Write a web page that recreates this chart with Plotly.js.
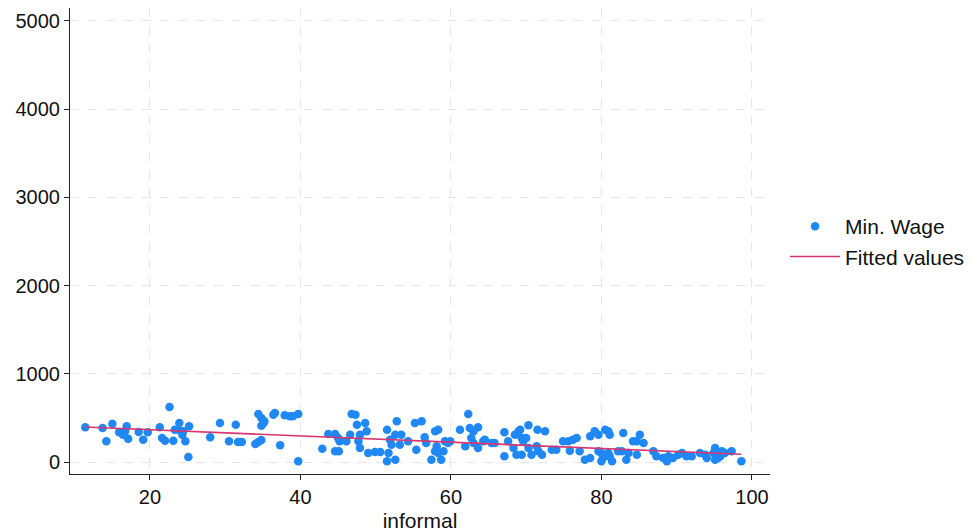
<!DOCTYPE html>
<html>
<head>
<meta charset="utf-8">
<script src="https://cdn.plot.ly/plotly-3.0.1.min.js"></script>
<style>html,body{margin:0;padding:0;background:#fff;}#chart{width:974px;height:532px;}</style>
</head>
<body>
<div id="chart"></div>
<script>
// informal (%) values
const informal = [
  11.4, 13.7, 14.2, 15.0, 15.9, 16.7, 16.9, 17.1, 16.4, 18.5, 19.1, 19.7, 21.3, 21.6, 22.6, 22.0, 23.1, 23.9, 23.8, 24.3,
  24.7, 25.2, 25.1, 24.4, 23.3, 28.0, 29.3, 31.4, 30.5, 31.7, 32.2, 34.4, 34.8, 35.1, 34.8, 35.2, 36.4, 36.6, 37.9, 38.6,
  39.0, 39.7, 34.0, 34.4, 34.8, 37.3, 39.7, 42.9, 43.7, 44.6, 44.6, 45.1, 45.2, 45.0, 46.1, 46.6, 46.8, 47.3, 47.5, 48.6,
  48.8, 47.9, 47.7, 47.9, 49.0, 49.9, 50.6, 51.5, 51.5, 52.6, 51.7, 52.8, 52.6, 53.4, 53.2, 52.1, 51.9, 54.3, 55.2, 56.1,
  55.4, 56.5, 56.7, 57.9, 58.3, 57.4, 58.7, 57.9, 58.3, 59.0, 58.1, 59.2, 59.6, 59.9, 61.2, 62.3, 62.5, 63.6, 62.7, 61.9,
  63.0, 63.6, 64.3, 64.5, 65.4, 63.0, 65.8, 67.1, 67.1, 67.6, 68.3, 68.5, 69.0, 69.2, 69.4, 69.6, 68.7, 69.4, 70.3, 70.0,
  70.3, 70.7, 71.5, 72.5, 71.6, 72.1, 71.4, 73.4, 74.0, 74.9, 75.6, 76.2, 76.7, 75.8, 77.1, 77.8, 78.5, 78.5, 79.1, 79.6,
  80.0, 80.5, 80.9, 81.1, 80.2, 79.6, 80.9, 81.4, 80.0, 81.1, 82.9, 82.2, 82.7, 83.6, 83.3, 84.2, 85.1, 84.7, 85.6, 84.7,
  86.9, 87.3, 88.2, 88.7, 88.9, 89.5, 90.2, 90.7, 91.3, 92.0, 93.1, 93.8, 94.0, 95.1, 94.9, 95.1, 95.8, 96.0, 96.4, 97.3,
  98.6, 95.5
];
// minimum wage values
const minWage = [
  393, 385, 235, 434, 337, 348, 405, 264, 310, 340, 253, 337, 393, 272, 624, 241, 241, 442, 366, 310,
  235, 405, 57, 348, 366, 280, 442, 423, 235, 227, 227, 544, 499, 442, 412, 462, 537, 556, 529, 518,
  518, 544, 204, 227, 249, 189, 8, 151, 317, 317, 121, 121, 235, 272, 235, 310, 544, 537, 423, 442,
  348, 310, 235, 159, 102, 113, 113, 366, 8, 26, 102, 462, 310, 310, 196, 196, 253, 235, 442, 462,
  140, 280, 215, 348, 366, 26, 26, 121, 102, 121, 178, 235, 215, 235, 366, 544, 385, 393, 272, 178,
  215, 159, 235, 253, 215, 348, 215, 337, 65, 235, 159, 310, 348, 366, 272, 235, 83, 83, 416, 272,
  159, 83, 366, 348, 121, 83, 178, 140, 140, 235, 235, 253, 272, 128, 121, 26, 45, 291, 348, 310,
  102, 366, 348, 310, 45, 121, 102, 8, 8, 65, 329, 121, 121, 102, 26, 235, 310, 235, 215, 83,
  121, 65, 45, 8, 65, 45, 83, 102, 65, 65, 102, 83, 45, 159, 102, 26, 65, 121, 102, 121,
  8, 45
];
// fitted line endpoints
const fitX = [11.4, 98.6];
const fitY = [396, 88];

const seriesNames = ["Min. Wage", "Fitted values"];
const xTicks = [20, 40, 60, 80, 100];
const yTicks = [0, 1000, 2000, 3000, 4000, 5000];

const font = "Liberation Sans, Arial, Helvetica, sans-serif";

const traces = [
  {
    x: informal, y: minWage, type: "scatter", mode: "markers", name: seriesNames[0],
    marker: {color: "#1f88f4", size: 8.5, line: {width: 0}}
  },
  {
    x: fitX, y: fitY, type: "scatter", mode: "lines", name: seriesNames[1],
    line: {color: "#d8366c", width: 1.6}
  }
];

const layout = {
  width: 974, height: 532,
  margin: {l: 70, r: 204, t: 8, b: 58, pad: 0, autoexpand: false},
  paper_bgcolor: "#ffffff", plot_bgcolor: "#ffffff",
  font: {family: font, size: 20, color: "#111"},
  showlegend: true,
  legend: {
    x: 0.806, xref: "container", xanchor: "left",
    y: 0.546, yref: "container", yanchor: "middle",
    font: {family: font, size: 21, color: "#111"},
    bgcolor: "rgba(0,0,0,0)", tracegroupgap: 0, itemwidth: 50
  },
  xaxis: {
    range: [9.37, 102.4], tickvals: xTicks, ticktext: xTicks.map(String),
    showline: true, linecolor: "#222", linewidth: 1, mirror: false,
    ticks: "outside", ticklen: 5, tickcolor: "#222",
    showgrid: true, gridcolor: "#e6e6e6", griddash: "dash", gridwidth: 1,
    zeroline: false, tickfont: {size: 20}, automargin: false,
    title: {text: "informal", font: {size: 21}, standoff: 6}
  },
  yaxis: {
    range: [-136, 5147], tickvals: yTicks, ticktext: yTicks.map(String),
    showline: true, linecolor: "#222", linewidth: 1, mirror: false,
    ticks: "outside", ticklen: 5, tickcolor: "#222",
    showgrid: true, gridcolor: "#e6e6e6", griddash: "dash", gridwidth: 1,
    zeroline: false, tickfont: {size: 20}, automargin: false
  }
};

Plotly.newPlot("chart", traces, layout, {displayModeBar: false, staticPlot: true});
</script>
</body>
</html>
